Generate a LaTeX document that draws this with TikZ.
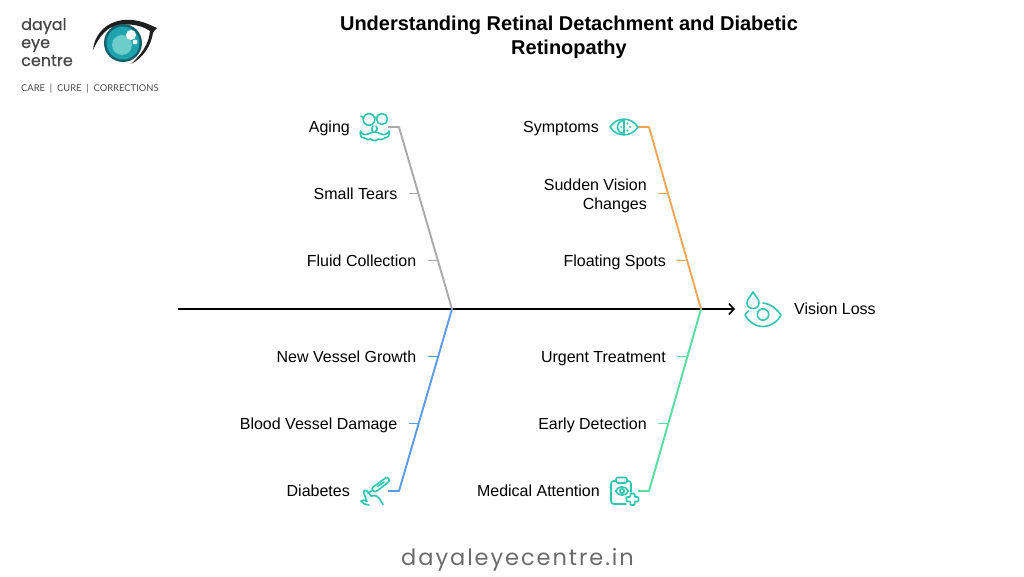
\documentclass[tikz,border=0pt]{standalone}
\usepackage{fontspec}
\usetikzlibrary{arrows.meta}
\setmainfont{Liberation Sans}
\newfontfamily\pop[FakeBold=0.7]{Poppins}
\newfontfamily\popsp[LetterSpace=8.6]{Poppins}
\newfontfamily\tagf{Lato}
\definecolor{teal1}{HTML}{2EC4B0}
\definecolor{cgray}{HTML}{A9A9A9}
\definecolor{corange}{HTML}{F2A65A}
\definecolor{cblue}{HTML}{5B9BEA}
\definecolor{cgreen}{HTML}{5ADBA2}
\definecolor{irisout}{HTML}{17606B}
\definecolor{iris}{HTML}{1FA3AE}
\definecolor{irisin}{HTML}{6CCDCB}
\tikzset{
 lab/.style={anchor=base east,align=right,font=\fontsize{16}{19}\selectfont,text=black,inner sep=0pt},
 ico/.style={draw=teal1,line width=1.6pt,line join=round,line cap=round,fill=none},
 branch/.style={line width=1.9pt,line join=round},
 logot/.style={anchor=base west,inner sep=0pt,text=black!72,font=\fontsize{16}{18}\pop\selectfont}
}
\begin{document}
\begin{tikzpicture}[x=1pt,y=-1pt]
\useasboundingbox (0,0) rectangle (1024,576);
\fill[white] (0,0) rectangle (1024,576);
% title
\node[font=\fontsize{20}{24}\selectfont\bfseries,align=center,inner sep=0pt] (title) at (569,37) {Understanding Retinal Detachment and Diabetic\\Retinopathy};
% logo
\node[logot] (l1) at (21,30) {dayal};
\node[logot] (l2) at (21,48) {eye};
\node[logot] (l3) at (21,66) {centre};
\node[anchor=west,inner sep=0pt,text=black!70,font=\fontsize{9.4}{11}\tagf\selectfont] (l4) at (21,89) {CARE\ \ |\ \ CURE\ \ |\ \ CORRECTIONS};
\fill[black!88] (93,50) .. controls (95,30) and (112,18) .. (132,20) .. controls (143,21) and (150,25) .. (157,28) .. controls (155,30) and (154,31) .. (153,33) .. controls (151,46) and (143,58) .. (131,64) .. controls (141,55) and (149,44) .. (150,31) .. controls (140,24) and (123,22) .. (110,28) .. controls (103,32) and (97,41) .. (93,50) -- cycle;
\fill[irisout] (123,43) circle (19);
\fill[iris] (123,43) circle (16.5);
\fill[irisin] (122,45) circle (10);
\fill[white] (131,35) circle (5);
\fill[white] (135,42) circle (2.4);
% spine
\coordinate (s0) at (178,309);
\coordinate (s1) at (735,309);
\coordinate (jl) at (452,309);
\coordinate (jr) at (701,309);
\draw[line width=1.6pt,black,-{Straight Barb[length=5pt,width=11pt]}] (s0) -- (s1);
% branches
\coordinate (a0) at (388,127); \coordinate (a1) at (399,127);
\coordinate (b0) at (638,127); \coordinate (b1) at (649,127);
\coordinate (c0) at (388,491); \coordinate (c1) at (399,491);
\coordinate (d0) at (638,491); \coordinate (d1) at (649,491);
\draw[branch,cgray] (a0) -- (a1) -- (jl);
\draw[branch,corange] (b0) -- (b1) -- (jr);
\draw[branch,cblue] (c0) -- (c1) -- (jl);
\draw[branch,cgreen] (d0) -- (d1) -- (jr);
% labels
\node[lab] (n1) at (350,132) {Aging};
\node[lab] (n2) at (397.5,199) {Small Tears};
\node[lab] (n3) at (416.5,266) {Fluid Collection};
\node[lab] (n4) at (416.5,362) {New Vessel Growth};
\node[lab] (n5) at (397.5,429) {Blood Vessel Damage};
\node[lab] (n6) at (350,496) {Diabetes};
\node[lab] (m1) at (599,132) {Symptoms};
\node[lab,anchor=east] (m2) at (647,195.5) {Sudden Vision\\Changes};
\node[lab] (m3) at (666,266) {Floating Spots};
\node[lab] (m4) at (666,362) {Urgent Treatment};
\node[lab] (m5) at (647,429) {Early Detection};
\node[lab] (m6) at (600,496) {Medical Attention};
\node[lab,anchor=base west] (vl) at (794,314) {Vision Loss};
% ticks
\coordinate (tn2) at (409,193.5); \coordinate (tn2e) at (419,193.5);
\coordinate (tn3) at (428,260.5); \coordinate (tn3e) at (438,260.5);
\coordinate (tn4) at (428,356.5); \coordinate (tn4e) at (438,356.5);
\coordinate (tn5) at (409,423.5); \coordinate (tn5e) at (419,423.5);
\coordinate (tm2) at (658,193.5); \coordinate (tm2e) at (668,193.5);
\coordinate (tm3) at (677,260.5); \coordinate (tm3e) at (687,260.5);
\coordinate (tm4) at (677,356.5); \coordinate (tm4e) at (687,356.5);
\coordinate (tm5) at (658,423.5); \coordinate (tm5e) at (668,423.5);
\draw[branch,cgray] (tn2) -- (tn2e);
\draw[branch,cgray] (tn3) -- (tn3e);
\draw[branch,cblue] (tn4) -- (tn4e);
\draw[branch,cblue] (tn5) -- (tn5e);
\draw[branch,corange] (tm2) -- (tm2e);
\draw[branch,corange] (tm3) -- (tm3e);
\draw[branch,cgreen] (tm4) -- (tm4e);
\draw[branch,cgreen] (tm5) -- (tm5e);
% aging icon
\draw[ico] (369,119.5) circle (5.8);
\draw[ico] (382,119) circle (5.5);
\draw[ico] (363.5,118) -- (361,116);
\draw[ico] (374.8,118) .. controls (375.5,117) and (376,117) .. (376.5,118);
\draw[ico] (373,126) .. controls (371,129) and (372,131) .. (373,132);
\draw[ico] (376,126) .. controls (378,129) and (377,131) .. (375,132);
\draw[ico] (360.5,131) .. controls (361,134) and (365,135.5) .. (368,134) .. controls (370,133) and (372,132) .. (374.5,132) .. controls (377,132) and (379,133) .. (381,134) .. controls (384,135.5) and (388,134) .. (389,131) .. controls (390,135) and (388,138) .. (384.5,138) .. controls (383,140) and (380,140) .. (378.5,139) .. controls (376.5,141) and (372.5,141) .. (370.5,139) .. controls (369,140) and (366,140) .. (364.5,138) .. controls (361,138) and (359.5,135) .. (360.5,131) -- cycle;
% symptoms eye
\draw[ico] (610,127) .. controls (617,116.5) and (631,116.5) .. (638,127) .. controls (631,137.5) and (617,137.5) .. (610,127) -- cycle;
\draw[ico] (624,120.5) arc[start angle=-90,end angle=-270,radius=6.5];
\draw[ico] (624,120.5) -- (624,133.5);
\fill[teal1] (627.5,123.5) circle (1.1) (630,127) circle (1.1) (627.5,130.5) circle (1.1) (621,127) circle (1);
% vision loss icon
\draw[ico] (753,292) .. controls (750,297) and (747,299) .. (747,303) .. controls (747,306.5) and (749.5,308.5) .. (753,308.5) .. controls (756.5,308.5) and (759,306.5) .. (759,303) .. controls (759,299) and (756,297) .. (753,292) -- cycle;
\draw[ico] (763,303) .. controls (771,304) and (777,309) .. (781,315) .. controls (778,321) and (771,326.5) .. (763,326.5) .. controls (755,326.5) and (748,321) .. (745,315) .. controls (746,313.5) and (747,312) .. (748.5,311);
\draw[ico] (763,314.5) circle (5.7);
% diabetes icon
\draw[ico,rounded corners=2.5pt] (371,488.5) -- (387.5,476.5) -- (390,481) -- (375,492.5) -- cycle;
\draw[ico] (377.5,486.5) -- (384,482);
\draw[ico] (371.5,491) -- (368,493.5);
\draw[ico] (369,505) .. controls (365,504.5) and (362,503) .. (361,501) .. controls (362.5,499.5) and (365,500) .. (367,501.5) -- (363.5,492) .. controls (363.5,490) and (366,489.5) .. (367.5,491.5) -- (371,496) .. controls (375,495) and (378,496) .. (379,498) -- (383,504.5);
% medical icon
\draw[ico] (616,481) -- (613.5,481) .. controls (612,481) and (611,482) .. (611,484) -- (611,501) .. controls (611,503) and (612,504) .. (614,504) -- (626,504);
\draw[ico] (627,481) -- (628.5,481) .. controls (630,481) and (631,482) .. (631,484) -- (631,492);
\draw[ico,rounded corners=2pt] (616,477.5) rectangle (627,483);
\draw[ico] (615.5,491) .. controls (618.5,485.5) and (625.5,485.5) .. (628.5,491) .. controls (625.5,496.5) and (618.5,496.5) .. (615.5,491) -- cycle;
\draw[ico] (622,491) circle (2.2);
\draw[ico,rounded corners=0.8pt] (630.3,493.5) -- (634.7,493.5) -- (634.7,497) -- (638.5,497) -- (638.5,501.5) -- (634.7,501.5) -- (634.7,505) -- (630.3,505) -- (630.3,501.5) -- (626.5,501.5) -- (626.5,497) -- (630.3,497) -- cycle;
% footer
\node[inner sep=0pt,text=black!58,font=\fontsize{22.5}{26}\popsp\selectfont] (foot) at (517.5,560) {dayaleyecentre.in};
\end{tikzpicture}
\end{document}
